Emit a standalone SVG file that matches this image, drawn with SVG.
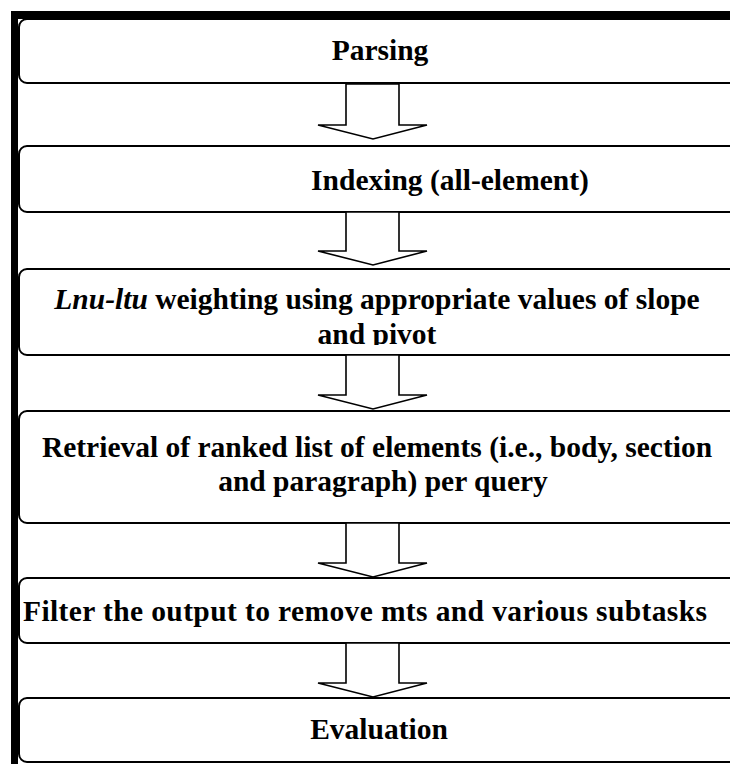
<svg xmlns="http://www.w3.org/2000/svg" width="730" height="764" viewBox="0 0 730 764">
<style>
.box{fill:#fff;stroke:#000;stroke-width:2}
.t{font-family:"Liberation Serif","Times New Roman",serif;font-weight:bold;font-size:29.5px;fill:#000;text-anchor:middle}
.arr{fill:#fff;stroke:#000;stroke-width:1.6;stroke-linejoin:miter}
</style>
<defs>
<clipPath id="c3"><rect x="0" y="260" width="730" height="85"/></clipPath>
</defs>
<rect width="730" height="764" fill="#fff"/>
<g id="frame">
<rect x="11" y="11" width="719" height="8" fill="#000"/>
<rect x="11" y="11" width="7" height="753" fill="#000"/>
</g>
<g id="n1"><rect class="box" x="19" y="19" width="730" height="64" rx="8"/><text class="t" x="380" y="60">Parsing</text></g>
<g id="n2"><rect class="box" x="19" y="146" width="730" height="66" rx="8"/><text class="t" x="450" y="190">Indexing (all-element)</text></g>
<g id="n3"><rect class="box" x="19" y="269" width="730" height="86" rx="8"/><text class="t" x="377" y="309"><tspan font-style="italic">Lnu-ltu</tspan> weighting using appropriate values of slope</text><text class="t" x="377" y="344" clip-path="url(#c3)">and pivot</text></g>
<g id="n4"><rect class="box" x="19" y="411" width="730" height="112" rx="8"/><text class="t" x="377" y="457">Retrieval of ranked list of elements (i.e., body, section</text><text class="t" x="383" y="491">and paragraph) per query</text></g>
<g id="n5"><rect class="box" x="19" y="578" width="730" height="65" rx="8"/><text class="t" x="365" y="621" textLength="684" lengthAdjust="spacing">Filter the output to remove mts and various subtasks</text></g>
<g id="n6"><rect class="box" x="19" y="698" width="730" height="64" rx="8"/><text class="t" x="379" y="739">Evaluation</text></g>
<g id="connectors">
<polygon class="arr" points="346,84 399,84 399,125 427,125 373,139 318,125 346,125"/>
<polygon class="arr" points="346,212 399,212 399,251 427,251 373,265 318,251 346,251"/>
<polygon class="arr" points="346,355 399,355 399,395 427,395 373,409 318,395 346,395"/>
<polygon class="arr" points="346,523 399,523 399,563 427,563 373,577 318,563 346,563"/>
<polygon class="arr" points="346,643 399,643 399,683 427,683 373,697 318,683 346,683"/>
</g>
</svg>
